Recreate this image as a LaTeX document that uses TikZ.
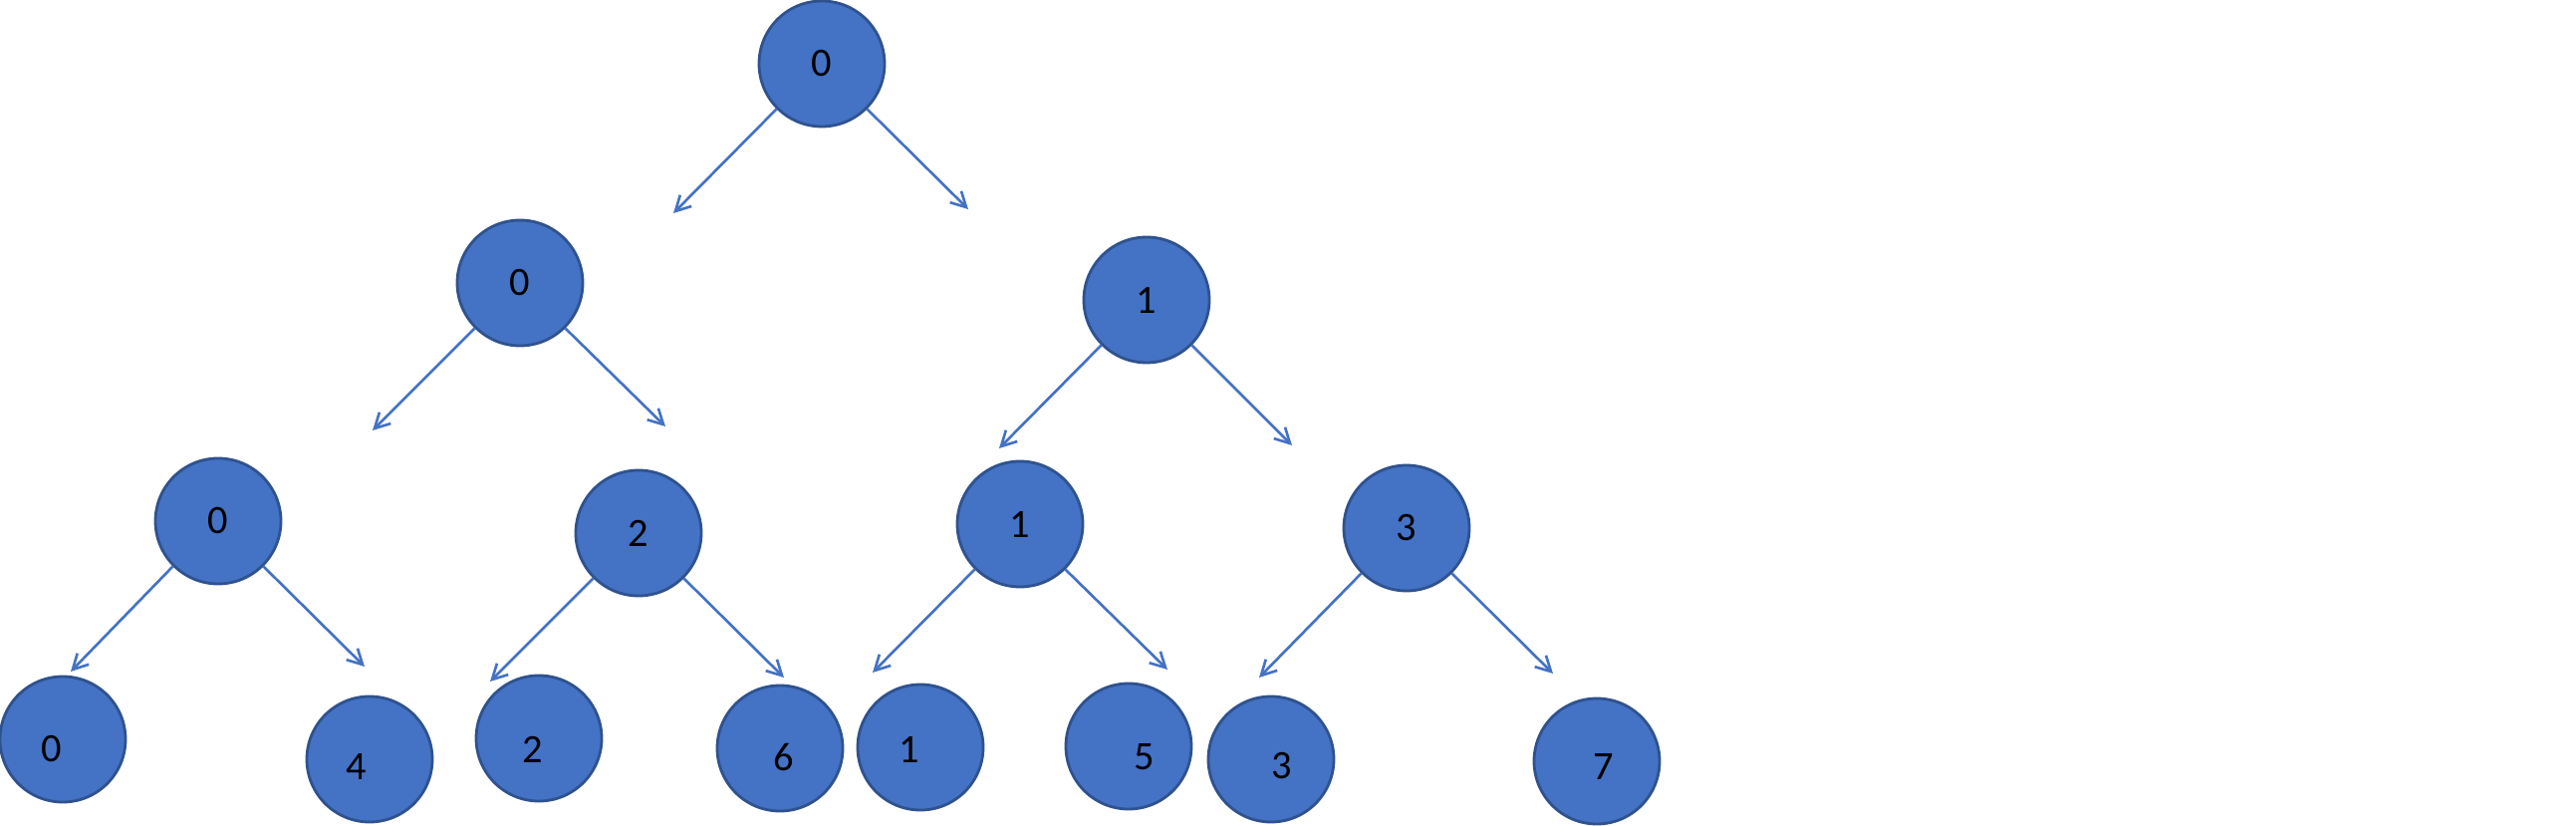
\documentclass[tikz,border=0pt]{standalone}
\usepackage{fontspec}
\setmainfont{Carlito}
\usetikzlibrary{arrows.meta}
\definecolor{nodefill}{HTML}{4472C4}
\definecolor{nodeedge}{HTML}{2F528F}

\begin{document}
\begin{tikzpicture}[>={Straight Barb[length=1.5mm,width=1.6mm]}, font=\fontsize{11.5}{13.8}\selectfont,
    vtx/.style={circle, fill=nodefill, draw=nodeedge, line width=0.8pt, minimum size=1.26cm, inner sep=0pt},
    arr/.style={->, nodefill, line width=0.75pt}]
    \useasboundingbox (0,0) rectangle (25.86,-8.29);
    \node[vtx] (r) at (8.25,-0.64) {0};
    \node[vtx] (a) at (5.22,-2.84) {0};
    \node[vtx] (b) at (11.51,-3.01) {1};
    \node[vtx] (c) at (2.19,-5.23) {0};
    \node[vtx] (d) at (6.41,-5.35) {2};
    \node[vtx] (e) at (10.24,-5.26) {1};
    \node[vtx] (f) at (14.12,-5.30) {3};
    \node[vtx, label={[shift={(-0.11,-0.10)}]center:0}] (c1) at (0.63,-7.42) {};
    \node[vtx, label={[shift={(-0.13,-0.08)}]center:4}] (c2) at (3.71,-7.62) {};
    \node[vtx, label={[shift={(-0.06,-0.11)}]center:2}] (d1) at (5.41,-7.41) {};
    \node[vtx, label={[shift={(0.04,-0.09)}]center:6}] (d2) at (7.83,-7.51) {};
    \node[vtx, label={[shift={(-0.11,-0.02)}]center:1}] (e1) at (9.24,-7.50) {};
    \node[vtx, label={[shift={(0.16,-0.11)}]center:5}] (e2) at (11.33,-7.49) {};
    \node[vtx, label={[shift={(0.11,-0.07)}]center:3}] (f1) at (12.76,-7.62) {};
    \node[vtx, label={[shift={(0.07,-0.06)}]center:7}] (f2) at (16.03,-7.64) {};
    \coordinate (rl) at (6.76,-2.14);
    \coordinate (rr) at (9.72,-2.10);
    \coordinate (al) at (3.74,-4.32);
    \coordinate (ar) at (6.68,-4.28);
    \coordinate (bl) at (10.03,-4.50);
    \coordinate (br) at (12.97,-4.47);
    \coordinate (cl) at (0.71,-6.74);
    \coordinate (cr) at (3.66,-6.69);
    \coordinate (dl) at (4.92,-6.84);
    \coordinate (dr) at (7.87,-6.80);
    \coordinate (el) at (8.76,-6.75);
    \coordinate (er) at (11.72,-6.72);
    \coordinate (fl) at (12.64,-6.80);
    \coordinate (fr) at (15.59,-6.76);
    \foreach \n in {r,a,b,c,d,e,f}{
      \draw[arr] (\n.south west) -- (\n l);
      \draw[arr] (\n.south east) -- (\n r);
    }
  \end{tikzpicture}
\end{document}
